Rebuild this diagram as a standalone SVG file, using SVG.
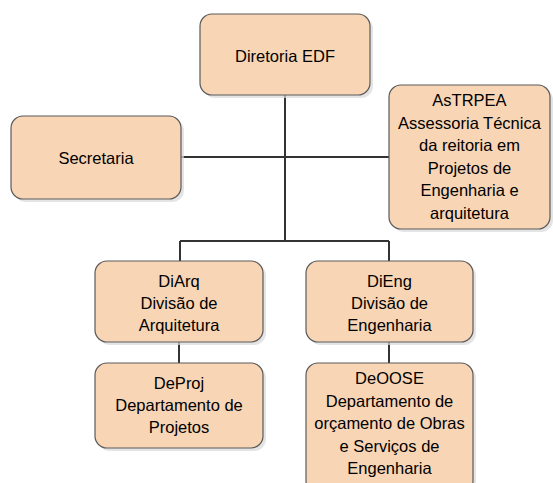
<svg xmlns="http://www.w3.org/2000/svg" width="553" height="483" viewBox="0 0 553 483">
<style>
.box{fill:#F8D5B5;stroke:#5a5a5a;stroke-width:1.2}
.sh{fill:#d8d8d8;opacity:0.7}
.t{font-family:"Liberation Sans",Arial,sans-serif;font-size:16.5px;fill:#000;text-anchor:middle}
.c{stroke:#333;stroke-width:2;fill:none}
</style>
<rect width="553" height="483" fill="#fff"/>
<g id="connectors">
<path class="c" d="M285 95V241M181 157H389M180 241H389M180 241V261M389 241V261M179 342V363M389 342V363"/>
</g>
<g id="diretoria">
<rect class="sh" x="203" y="17" width="170" height="81" rx="12"/>
<rect class="box" x="200" y="14" width="170" height="81" rx="12"/>
<text class="t" x="285" y="62">Diretoria EDF</text>
</g>
<g id="secretaria">
<rect class="sh" x="14" y="119" width="170" height="83" rx="12"/>
<rect class="box" x="11" y="116" width="170" height="83" rx="12"/>
<text class="t" x="96" y="164">Secretaria</text>
</g>
<g id="astrpea">
<rect class="sh" x="392" y="88" width="161" height="144" rx="12"/>
<rect class="box" x="389" y="85" width="161" height="144" rx="12"/>
<text class="t" x="469.5" y="106">AsTRPEA</text>
<text class="t" x="469.5" y="128.5">Assessoria Técnica</text>
<text class="t" x="469.5" y="151">da reitoria em</text>
<text class="t" x="469.5" y="173.5">Projetos de</text>
<text class="t" x="469.5" y="196">Engenharia e</text>
<text class="t" x="469.5" y="218.5">arquitetura</text>
</g>
<g id="diarq">
<rect class="sh" x="98" y="264" width="168" height="81" rx="12"/>
<rect class="box" x="95" y="261" width="168" height="81" rx="12"/>
<text class="t" x="179" y="287">DiArq</text>
<text class="t" x="179" y="309">Divisão de</text>
<text class="t" x="179" y="331">Arquitetura</text>
</g>
<g id="dieng">
<rect class="sh" x="309" y="264" width="167" height="81" rx="12"/>
<rect class="box" x="306" y="261" width="167" height="81" rx="12"/>
<text class="t" x="389.5" y="287">DiEng</text>
<text class="t" x="389.5" y="309">Divisão de</text>
<text class="t" x="389.5" y="331">Engenharia</text>
</g>
<g id="deproj">
<rect class="sh" x="98" y="366" width="168" height="85" rx="12"/>
<rect class="box" x="95" y="363" width="168" height="85" rx="12"/>
<text class="t" x="179" y="389">DeProj</text>
<text class="t" x="179" y="411">Departamento de</text>
<text class="t" x="179" y="433">Projetos</text>
</g>
<g id="deoose">
<rect class="sh" x="309" y="366" width="167" height="130" rx="12"/>
<rect class="box" x="306" y="363" width="167" height="130" rx="12"/>
<text class="t" x="389.5" y="384">DeOOSE</text>
<text class="t" x="389.5" y="406.5">Departamento de</text>
<text class="t" x="389.5" y="429">orçamento de Obras</text>
<text class="t" x="389.5" y="451.5">e Serviços de</text>
<text class="t" x="389.5" y="474">Engenharia</text>
</g>
</svg>
